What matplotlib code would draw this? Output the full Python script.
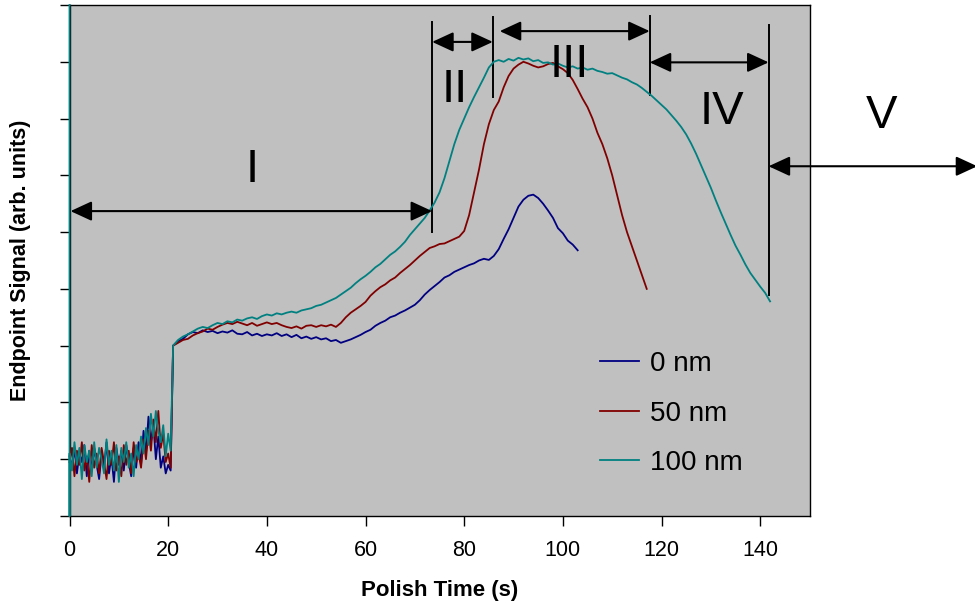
import numpy as np
import matplotlib
matplotlib.use('Agg')
import matplotlib.pyplot as plt

plt.rcParams['font.family'] = ['Liberation Sans', 'DejaVu Sans']

# raw endpoint traces: noisy start (0.5 s steps) then 1 s steps from t = 21 s
blue_noise = [1.05, 0.85, 1.2, 0.75, 1.1, 0.95, 1.25, 0.7, 1.15, 0.8,
              1.2, 0.9, 0.65, 1.1, 0.85, 1.3, 0.75, 1.05, 0.6, 1.2,
              0.9, 1.15, 0.8, 1.25, 0.95, 0.7, 1.2, 0.85, 1.3, 0.9,
              1.5, 1.1, 1.75, 1.3, 1.6, 1.0, 1.4, 0.85, 1.05, 0.75,
              0.9, 0.8]
red_noise = [0.95, 1.2, 0.7, 1.15, 0.9, 1.3, 0.8, 1.05, 0.6, 1.25,
             0.85, 1.1, 0.75, 1.2, 0.95, 0.65, 1.15, 0.9, 1.3, 0.8,
             1.05, 0.7, 1.25, 0.9, 1.15, 0.75, 1.3, 0.95, 1.1, 0.85,
             1.35, 1.0, 1.5, 1.15, 1.7, 1.3, 1.85, 1.2, 1.45, 0.95,
             1.1, 0.85]
teal_noise = [1.1, 0.8, 1.3, 0.9, 1.2, 0.65, 1.25, 0.95, 1.15, 0.7,
              1.3, 0.85, 1.2, 1.0, 0.75, 1.35, 0.9, 1.15, 0.8, 1.25,
              0.6, 1.2, 0.95, 1.3, 0.85, 1.1, 0.7, 1.25, 1.0, 1.4,
              1.1, 1.55, 1.25, 1.8, 1.4, 1.85, 1.5, 1.3, 1.6, 1.05,
              1.45, 1.15]

blue_main = [3.0, 3.08, 3.12, 3.2, 3.24, 3.22, 3.27, 3.24, 3.26, 3.22,
             3.25, 3.23, 3.27, 3.21, 3.2, 3.24, 3.18, 3.21, 3.17, 3.2,
             3.18, 3.22, 3.17, 3.2, 3.15, 3.19, 3.13, 3.16, 3.12, 3.15,
             3.11, 3.13, 3.08, 3.1, 3.05, 3.08, 3.11, 3.15, 3.19, 3.24,
             3.28, 3.35, 3.4, 3.44, 3.5, 3.53, 3.58, 3.62, 3.67, 3.72,
             3.8, 3.9, 3.98, 4.05, 4.12, 4.2, 4.24, 4.3, 4.34, 4.38,
             4.42, 4.45, 4.5, 4.53, 4.51, 4.58, 4.7, 4.88, 5.05, 5.25,
             5.45, 5.57, 5.64, 5.66, 5.6, 5.5, 5.38, 5.25, 5.07, 4.98,
             4.85, 4.78, 4.68]
red_main = [3.0, 3.05, 3.1, 3.12, 3.18, 3.22, 3.25, 3.3, 3.28, 3.33,
            3.37, 3.4, 3.38, 3.42, 3.39, 3.36, 3.4, 3.35, 3.38, 3.41,
            3.38, 3.4, 3.36, 3.33, 3.31, 3.34, 3.3, 3.35, 3.36, 3.33,
            3.36, 3.34, 3.37, 3.33, 3.4, 3.5, 3.58, 3.64, 3.7, 3.77,
            3.88, 3.96, 4.03, 4.08, 4.15, 4.2, 4.28, 4.35, 4.42, 4.5,
            4.58, 4.65, 4.72, 4.75, 4.79, 4.8, 4.84, 4.88, 4.92, 5.02,
            5.3, 5.7, 6.1, 6.55, 6.9, 7.15, 7.3, 7.55, 7.75, 7.88,
            7.95, 8.0, 7.97, 7.93, 7.9, 7.92, 7.96, 7.98, 7.92, 7.87,
            7.8, 7.68, 7.52, 7.35, 7.2, 7.0, 6.75, 6.55, 6.3, 6.0,
            5.65, 5.3, 5.0, 4.75, 4.5, 4.25, 4.0]
teal_main = [3.0, 3.1, 3.16, 3.2, 3.25, 3.3, 3.33, 3.31, 3.36, 3.4,
             3.38, 3.43, 3.41, 3.46, 3.44, 3.48, 3.5, 3.47, 3.52, 3.55,
             3.53, 3.57, 3.55, 3.58, 3.6, 3.58, 3.62, 3.64, 3.66, 3.7,
             3.72, 3.76, 3.8, 3.84, 3.9, 3.96, 4.02, 4.1, 4.17, 4.23,
             4.3, 4.38, 4.44, 4.52, 4.6, 4.66, 4.74, 4.83, 4.95, 5.05,
             5.15, 5.25, 5.38, 5.52, 5.7, 5.95, 6.25, 6.55, 6.8, 7.0,
             7.2, 7.38, 7.55, 7.72, 7.9, 8.0, 8.03, 8.0, 8.05, 8.02,
             8.07, 8.04, 8.06, 8.01, 8.03, 7.98, 7.99, 7.95, 7.97, 7.93,
             7.9, 7.92, 7.88, 7.9, 7.86, 7.88, 7.84, 7.82, 7.79, 7.8,
             7.76, 7.72, 7.69, 7.64, 7.6, 7.54, 7.47, 7.4, 7.32, 7.24,
             7.16, 7.06, 6.96, 6.85, 6.72, 6.56, 6.38, 6.18, 5.98, 5.78,
             5.56, 5.35, 5.15, 4.95, 4.76, 4.6, 4.43, 4.28, 4.16, 4.04,
             3.93, 3.78]
# 100 nm trace starts off-scale at t = 0
teal_start_t = [0.0, 0.0]
teal_start_v = [9.0, 0.0]

labels = ['0 nm', '50 nm', '100 nm']
colors = ['#000080', '#800000', '#008080']

# region boundaries (s) and labels
bounds = [73.5, 85.8, 117.6, 141.7]
regions = ['I', 'II', 'III', 'IV', 'V']


def trace(noise, main):
    t = np.concatenate([np.arange(len(noise)) * 0.5, 21 + np.arange(len(main))])
    return t, np.array(noise + main)


fig = plt.figure(figsize=(9.75, 6.03), dpi=100)
ax = fig.add_axes([0.0713, 0.1443, 0.759, 0.8474])
ax.set_facecolor('#c0c0c0')

series = [trace(blue_noise, blue_main), trace(red_noise, red_main),
          trace(teal_noise, teal_main)]
for k, (t, v) in enumerate(series):
    if k == 2:
        t = np.concatenate([teal_start_t, t])
        v = np.concatenate([teal_start_v, v])
    ax.plot(t, v, color=colors[k], lw=1.3, label=labels[k], zorder=3,
            clip_on=False)

ax.set_xlim(0, 150)
ax.set_ylim(0, 9)
ax.set_xticks(np.arange(0, 141, 20))
ax.set_yticks(np.arange(0, 10, 1))
ax.set_yticklabels([])
ax.tick_params(direction='out', length=7, width=1, labelsize=15.5, pad=10)
for s in ax.spines.values():
    s.set_linewidth(1.0)

ax.set_xlabel('Polish Time (s)', fontsize=16, fontweight='bold', labelpad=14)
ax.set_ylabel('Endpoint Signal (arb. units)', fontsize=15.5, fontweight='bold')
ax.yaxis.set_label_coords(-0.052, 0.5)

# boundary lines
ax.plot([bounds[0]] * 2, [5.0, 8.7], color='black', lw=1.4)
ax.plot([bounds[1]] * 2, [7.38, 8.79], color='black', lw=1.4)
ax.plot([bounds[2]] * 2, [7.41, 8.8], color='black', lw=1.4)
ax.plot([bounds[3]] * 2, [3.89, 8.64], color='black', lw=1.4)

arrow = dict(arrowstyle='<|-|>,head_length=0.65,head_width=0.3',
             color='black', lw=1.5, shrinkA=0, shrinkB=0, mutation_scale=20)
spans = [(0.2, bounds[0], 5.37), (bounds[0], bounds[1], 8.35),
         (87.2, bounds[2], 8.54), (bounds[2], bounds[3], 7.99),
         (bounds[3], 184, 6.16)]
for x0, x1, y in spans:
    ax.annotate('', xy=(x1, y), xytext=(x0, y), arrowprops=arrow,
                annotation_clip=False)

label_pos = [(37, 6.1), (78.1, 7.5), (101.4, 7.94), (132.2, 7.11), (164.6, 7.04)]
for name, (x, y) in zip(regions, label_pos):
    ax.text(x, y, name, fontsize=34, ha='center', va='center', clip_on=False)

ax.legend(loc='upper left', bbox_to_anchor=(0.683, 0.372), frameon=False,
          fontsize=20, handlelength=1.4, handletextpad=0.4, labelspacing=0.85)

fig.savefig('out.png', dpi=100)
